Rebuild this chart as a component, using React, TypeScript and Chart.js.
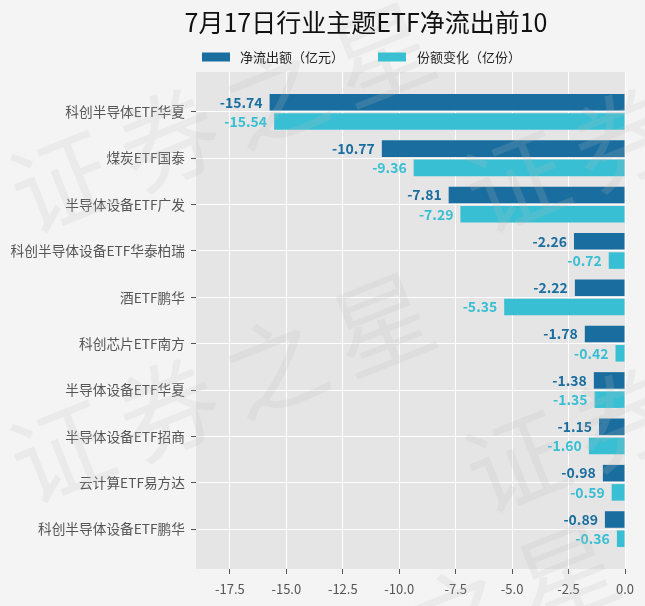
import { useEffect, useRef } from "react";
import { Chart, registerables } from "chart.js";
Chart.register(...registerables);

const FONT = '"Noto Sans CJK SC", "Noto Sans", sans-serif';

const title = "7月17日行业主题ETF净流出前10";
const seriesNames = ["净流出额（亿元）", "份额变化（亿份）"];
const categories = [
  "科创半导体ETF华夏",
  "煤炭ETF国泰",
  "半导体设备ETF广发",
  "科创半导体设备ETF华泰柏瑞",
  "酒ETF鹏华",
  "科创芯片ETF南方",
  "半导体设备ETF华夏",
  "半导体设备ETF招商",
  "云计算ETF易方达",
  "科创半导体设备ETF鹏华",
];
const netOutflow = [-15.74, -10.77, -7.81, -2.26, -2.22, -1.78, -1.38, -1.15, -0.98, -0.89];
const shareChange = [-15.54, -9.36, -7.29, -0.72, -5.35, -0.42, -1.35, -1.6, -0.59, -0.36];
const xTicks = [-17.5, -15, -12.5, -10, -7.5, -5, -2.5, 0];
const colors = ["#1a6e9f", "#38bfd3"];
const watermark = "证券之星";

export default function App() {
  const ref = useRef<HTMLCanvasElement>(null);
  useEffect(() => {
    document.body.style.margin = "0";
    document.body.style.background = "#f4f4f4";
    const series = [netOutflow, shareChange];

    const bgPlugin = {
      id: "bg",
      beforeDraw(chart: any) {
        const { ctx, chartArea } = chart;
        ctx.save();
        ctx.fillStyle = "#f4f4f4";
        ctx.fillRect(0, 0, chart.width, chart.height);
        ctx.fillStyle = "#e5e5e5";
        ctx.fillRect(chartArea.left, chartArea.top, chartArea.right - chartArea.left, chartArea.bottom - chartArea.top);
        ctx.restore();
      },
    };

    const labelPlugin = {
      id: "labels",
      afterDatasetsDraw(chart: any) {
        const ctx = chart.ctx;
        chart.data.datasets.forEach((_ds: any, di: number) => {
          const meta = chart.getDatasetMeta(di);
          meta.data.forEach((el: any, i: number) => {
            const v = series[di][i];
            ctx.save();
            ctx.font = `bold 14px ${FONT}`;
            ctx.fillStyle = colors[di];
            ctx.textAlign = "right";
            ctx.textBaseline = "middle";
            ctx.fillText(v.toFixed(2), el.x - 7, el.y);
            ctx.restore();
          });
        });
      },
    };

    const headerPlugin = {
      id: "header",
      afterDraw(chart: any) {
        const ctx = chart.ctx;
        ctx.save();
        // watermark
        ctx.fillStyle = "rgba(190,190,190,0.18)";
        ctx.font = `100px ${FONT}`;
        ctx.textBaseline = "middle";
        ctx.textAlign = "left";
        const rows = [
          [15, 200],
          [15, 470],
          [470, 200],
          [470, 480],
          [200, 720],
        ];
        rows.forEach(([x, y]) => {
          ctx.save();
          ctx.translate(x, y);
          ctx.rotate(-0.38);
          let cx = 0;
          for (const ch of watermark) {
            ctx.fillText(ch, cx, 0);
            cx += 115;
          }
          ctx.restore();
        });
        ctx.restore();

        ctx.save();
        ctx.fillStyle = "#111";
        ctx.font = `25px ${FONT}`;
        ctx.textAlign = "center";
        ctx.textBaseline = "middle";
        ctx.fillText(title, 366, 22);
        ctx.font = `13px ${FONT}`;
        ctx.textAlign = "left";
        const items = [
          [202, 240],
          [378, 417],
        ];
        items.forEach(([bx, tx], i) => {
          ctx.fillStyle = colors[i];
          ctx.fillRect(bx, 52.5, 28, 9);
          ctx.fillStyle = "#222";
          ctx.fillText(seriesNames[i], tx, 57);
        });
        ctx.restore();
      },
    };

    const chart = new Chart(ref.current!, {
      type: "bar",
      data: {
        datasets: series.map((vals, di) => ({
          label: seriesNames[di],
          data: vals.map((v, i) => ({ x: v, y: i })),
          backgroundColor: colors[di],
          categoryPercentage: 0.83,
          barPercentage: 0.86,
        })),
      },
      options: {
        indexAxis: "y",
        responsive: false,
        animation: false,
        layout: { padding: { top: 72, right: 20, left: 0, bottom: 0 } },
        plugins: {
          legend: { display: false },
          title: { display: false },
          tooltip: { enabled: false },
        },
        scales: {
          x: {
            type: "linear",
            min: -19,
            max: 0,
            offset: false,
            afterBuildTicks: (s: any) => {
              s.ticks = xTicks.map((v) => ({ value: v }));
            },
            afterFit: (s: any) => {
              s.height = 37;
            },
            ticks: {
              callback: (v: any) => Number(v).toFixed(1),
              color: "#555",
              font: { size: 13, family: FONT },
              padding: 7,
              maxRotation: 0,
            },
            grid: { color: "#ffffff", tickColor: "#555", tickLength: 5, lineWidth: 1, offset: false },
            border: { display: false },
          },
          y: {
            type: "linear",
            min: -0.86,
            max: 9.86,
            reverse: true,
            offset: false,
            afterBuildTicks: (s: any) => {
              s.ticks = categories.map((_c, i) => ({ value: i }));
            },
            afterFit: (s: any) => {
              s.width = 196;
            },
            ticks: {
              callback: (v: any) => categories[Math.round(Number(v))],
              color: "#555",
              font: { size: 13.7, family: FONT },
              padding: 6,
            },
            grid: { color: "#ffffff", tickColor: "#555", tickLength: 5, lineWidth: 1, offset: false },
            border: { display: false },
          },
        },
      } as any,
      plugins: [bgPlugin, labelPlugin, headerPlugin],
    });
    return () => chart.destroy();
  }, []);

  return (
    <div style={{ width: 645, height: 606 }}>
      <canvas ref={ref} width={645} height={606} />
    </div>
  );
}
